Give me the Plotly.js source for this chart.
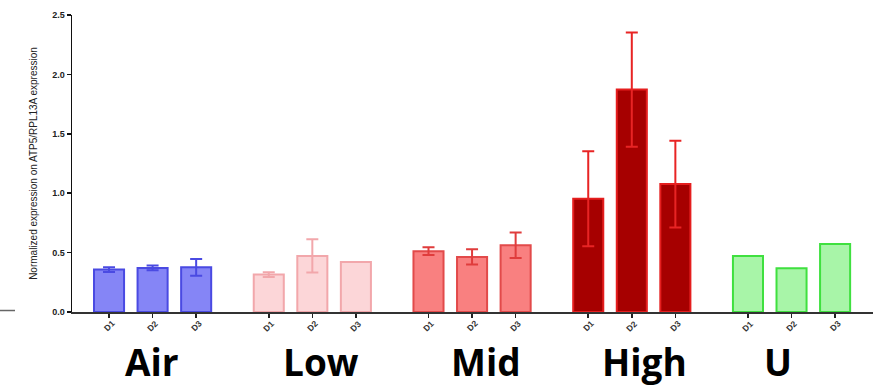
<!DOCTYPE html>
<html><head><meta charset="utf-8">
<script src="https://cdn.plot.ly/plotly-3.0.1.min.js"></script>
<style>html,body{margin:0;padding:0;background:#fff}#chart{width:877px;height:387px}</style>
</head><body><div id="chart"></div>
<script>
// Data
const groups = ["Air", "Low", "Mid", "High", "U"];
const donors = ["D1", "D2", "D3"];
const airVals = [0.357, 0.371, 0.376];
const airErr = [0.02, 0.02, 0.07];
const lowVals = [0.315, 0.472, 0.42];
const lowErr = [0.02, 0.14, 0];
const midVals = [0.512, 0.464, 0.562];
const midErr = [0.032, 0.065, 0.108];
const highVals = [0.953, 1.872, 1.077];
const highErr = [0.40, 0.48, 0.365];
const uVals = [0.472, 0.368, 0.573];
const uErr = [0, 0, 0];
const yTicks = [0, 0.5, 1.0, 1.5, 2.0, 2.5];
const yTickText = ["0.0", "0.5", "1.0", "1.5", "2.0", "2.5"];

const series = [airVals, lowVals, midVals, highVals, uVals];
const errs = [airErr, lowErr, midErr, highErr, uErr];
const styles = [
  {fill: "rgba(120,120,245,0.9)", line: "#4a4ae2", err: "#4a4ae2"},
  {fill: "#fcd6d8", line: "#f2a7ab", err: "#f2a7ab"},
  {fill: "#f98080", line: "#e24a4a", err: "#e03c3c"},
  {fill: "#a60000", line: "#e51e1e", err: "#e82424"},
  {fill: "#a8f5a8", line: "#3fe03f", err: "#3fe03f"}
];
const groupStep = 3 + 2/3;
const traces = [];
const tickvals = [], ticktext = [];
groups.forEach((g, gi) => {
  const xs = donors.map((d, i) => gi * groupStep + i);
  xs.forEach((x, i) => { tickvals.push(x); ticktext.push(donors[i]); });
  const hasErr = errs[gi].some(v => v > 0);
  traces.push({
    type: "bar", x: xs, y: series[gi], name: g, width: 0.69,
    marker: {color: styles[gi].fill, line: {color: styles[gi].line, width: 2}},
    error_y: hasErr ? {type: "data", array: errs[gi], visible: true, color: styles[gi].err, thickness: 2, width: 6} : {visible: false},
    hoverinfo: "y"
  });
});

// Rotated donor labels under each tick
const annotations = tickvals.map((x, k) => ({
  text: "<b>" + ticktext[k] + "</b>", xref: "x", yref: "paper", x: x, y: 0,
  xanchor: "center", yanchor: "middle", yshift: -14, textangle: -45, showarrow: false,
  font: {family: "Liberation Sans", size: 8.5, color: "#333"}
}));

// Group label placement (paper coordinates)
const labelX = [152, 321, 486, 644, 778];
groups.forEach((g, gi) => annotations.push({
  text: "<b>" + g + "</b>", xref: "paper", yref: "paper",
  x: (labelX[gi] - 72) / 801, y: -(361 - 312) / 297, xanchor: "center", yanchor: "middle",
  showarrow: false, font: {family: "Open Sans", size: 37, color: "#000"}
}));

const layout = {
  width: 877, height: 387,
  margin: {l: 72, r: 4, t: 15, b: 75},
  paper_bgcolor: "#fff", plot_bgcolor: "#fff",
  showlegend: false,
  bargap: 0,
  xaxis: {
    range: [-0.85, 2 + 4 * groupStep + 0.87],
    tickmode: "array", tickvals: tickvals, showticklabels: false,
    ticks: "outside", ticklen: 4, tickwidth: 1.5, tickcolor: "#222",
    showline: true, linecolor: "#333", linewidth: 1.5, showgrid: false, zeroline: false
  },
  yaxis: {
    range: [0, 2.5], tickmode: "array", tickvals: yTicks, ticktext: yTickText,
    ticks: "outside", ticklen: 4, tickwidth: 1.5, tickcolor: "#111",
    showline: true, linecolor: "#111", linewidth: 1.5, showgrid: false, zeroline: false,
    tickfont: {family: "Liberation Sans", size: 9, color: "#222", weight: "bold"},
    title: {text: "Normalized expression on ATP5/RPL13A expression", standoff: 12,
      font: {family: "Liberation Sans", size: 10, color: "#222"}}
  },
  annotations: annotations,
  shapes: [{type: "line", xref: "paper", yref: "paper", x0: -72/801, x1: -57/801, y0: 0.005, y1: 0.005,
    line: {color: "#666", width: 1.5}}]
};
Plotly.newPlot("chart", traces, layout, {displayModeBar: false, staticPlot: true});
</script></body></html>
